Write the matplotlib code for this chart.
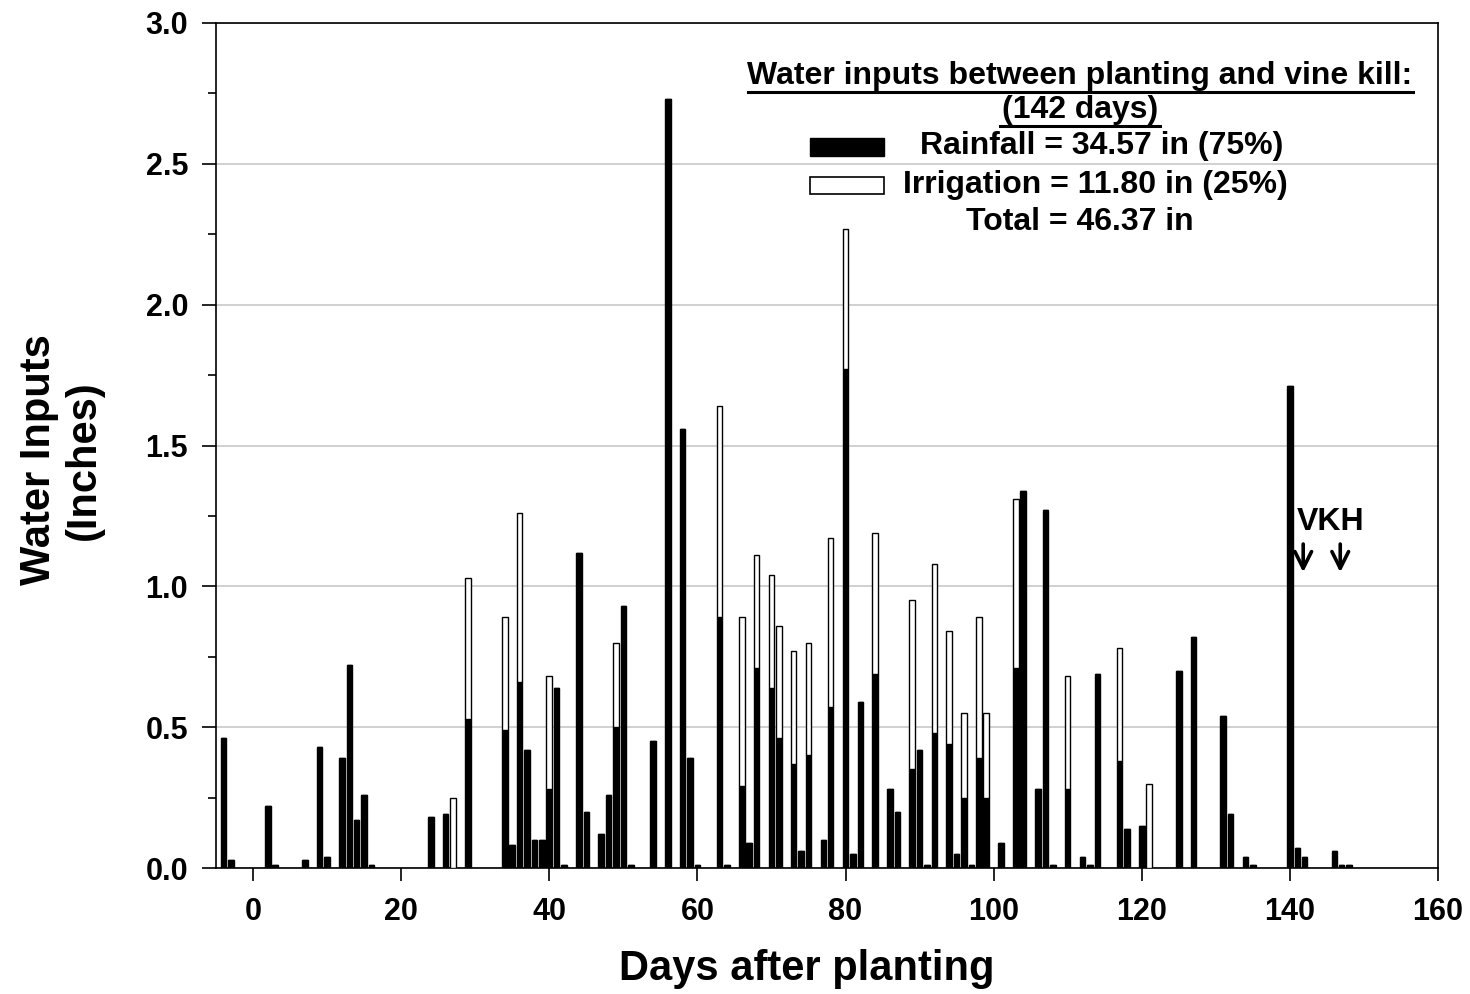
import matplotlib
matplotlib.use("Agg")
import matplotlib.pyplot as plt
from matplotlib.ticker import MultipleLocator
from matplotlib.patches import Rectangle
from matplotlib.lines import Line2D

# days after planting, rainfall and irrigation (inches)
days = [-4, -3, 2, 3, 7, 9, 10, 12, 13, 14, 15, 16, 24, 26, 27, 29,
        34, 35, 36, 37, 38, 39, 40, 41, 42, 44, 45, 47, 48, 49, 50, 51,
        54, 56, 58, 59, 60, 63, 64, 66, 67, 68, 70, 71, 73, 74, 75, 77,
        78, 80, 81, 82, 84, 86, 87, 89, 90, 91, 92, 94, 95, 96, 97, 98,
        99, 101, 103, 104, 106, 107, 108, 110, 112, 113, 114, 117, 118,
        120, 121, 125, 127, 131, 132, 134, 135, 140, 141, 142, 146, 147, 148]
rain = [0.46, 0.03, 0.22, 0.01, 0.03, 0.43, 0.04, 0.39, 0.72, 0.17, 0.26, 0.01, 0.18, 0.19, 0.00, 0.53,
        0.49, 0.08, 0.66, 0.42, 0.10, 0.10, 0.28, 0.64, 0.01, 1.12, 0.20, 0.12, 0.26, 0.50, 0.93, 0.01,
        0.45, 2.73, 1.56, 0.39, 0.01, 0.89, 0.01, 0.29, 0.09, 0.71, 0.64, 0.46, 0.37, 0.06, 0.40, 0.10,
        0.57, 1.77, 0.05, 0.59, 0.69, 0.28, 0.20, 0.35, 0.42, 0.01, 0.48, 0.44, 0.05, 0.25, 0.01, 0.39,
        0.25, 0.09, 0.71, 1.34, 0.28, 1.27, 0.01, 0.28, 0.04, 0.01, 0.69, 0.38, 0.14,
        0.15, 0.00, 0.70, 0.82, 0.54, 0.19, 0.04, 0.01, 1.71, 0.07, 0.04, 0.06, 0.01, 0.01]
irrig = [0, 0, 0, 0, 0, 0, 0, 0, 0, 0, 0, 0, 0, 0, 0.25, 0.50,
         0.40, 0, 0.60, 0, 0, 0, 0.40, 0, 0, 0, 0, 0, 0, 0.30, 0, 0,
         0, 0, 0, 0, 0, 0.75, 0, 0.60, 0, 0.40, 0.40, 0.40, 0.40, 0, 0.40, 0,
         0.60, 0.50, 0, 0, 0.50, 0, 0, 0.60, 0, 0, 0.60, 0.40, 0, 0.30, 0, 0.50,
         0.30, 0, 0.60, 0, 0, 0, 0, 0.40, 0, 0, 0, 0.40, 0,
         0, 0.30, 0, 0, 0, 0, 0, 0, 0, 0, 0, 0, 0, 0]

rain_label = "Rainfall = 34.57 in (75%)"
irrig_label = "Irrigation = 11.80 in (25%)"
total_label = "Total = 46.37 in"
box_title = ["Water inputs between planting and vine kill:", "(142 days)"]
event_days = [141.8, 146.8]   # vine kill, harvest arrows

W, H = 1470, 994
BOLD = ['Liberation Sans', 'DejaVu Sans']

def fx(px):
    return px / W

def fy(py):
    return 1 - py / H

fig = plt.figure(figsize=(W / 100, H / 100), dpi=100)
ax = fig.add_axes([fx(216), fy(868), fx(1438) - fx(216), fy(23) - fy(868)])

ax.bar(days, rain, width=0.75, color='black', edgecolor='black', linewidth=1.0, zorder=3)
ax.bar(days, irrig, bottom=rain, width=0.75, color='white', edgecolor='black',
       linewidth=1.0, zorder=3)

ax.set_xlim(-5, 160)
ax.set_ylim(0, 3.0)
ax.xaxis.set_major_locator(MultipleLocator(20))
ax.yaxis.set_major_locator(MultipleLocator(0.5))
ax.yaxis.set_minor_locator(MultipleLocator(0.25))
ax.yaxis.set_major_formatter(matplotlib.ticker.FormatStrFormatter('%.1f'))
ax.tick_params(axis='x', which='major', direction='out', length=9, width=1.2, pad=12)
ax.tick_params(axis='y', which='major', direction='out', length=10, width=1.2, pad=10)
ax.tick_params(axis='y', which='minor', direction='out', length=6, width=1.2)
for lab in ax.get_xticklabels() + ax.get_yticklabels():
    lab.set_family(BOLD)
    lab.set_fontweight('bold')
    lab.set_fontsize(22)
for s in ax.spines.values():
    s.set_linewidth(1.2)

ax.grid(axis='y', color='#c8c8c8', linewidth=1.2, zorder=0)

ax.set_xlabel("Days after planting", family=BOLD, fontweight='bold', fontsize=30)
ax.xaxis.set_label_coords(0.4836, -0.096)
ax.set_ylabel("Water Inputs\n(Inches)", family=BOLD, fontweight='bold', fontsize=30,
              linespacing=1.15)
ax.yaxis.set_label_coords(-0.092, 0.483)

# VK / H markers
ax.text(event_days[0] - 0.9, 1.23, "VKH", family=BOLD, fontweight='bold', fontsize=23,
        ha='left', va='center')
for d in event_days:
    ax.annotate('', xy=(d, 1.04), xytext=(d, 1.16),
                arrowprops=dict(arrowstyle='->', lw=2.6, color='black',
                                mutation_scale=30))

# legend block
fig.text(fx(1080), fy(76), box_title[0], family=BOLD, fontweight='bold', fontsize=23,
         ha='center', va='center')
fig.text(fx(1080), fy(110), box_title[1], family=BOLD, fontweight='bold', fontsize=23,
         ha='center', va='center')
fig.add_artist(Line2D([fx(748), fx(1413)], [fy(92), fy(92)], transform=fig.transFigure,
                      color='black', lw=2.2))
fig.add_artist(Line2D([fx(1000), fx(1160)], [fy(126), fy(126)], transform=fig.transFigure,
                      color='black', lw=2.2))
fig.text(fx(1102), fy(146), rain_label, family=BOLD, fontweight='bold', fontsize=23,
         ha='center', va='center')
fig.text(fx(1095), fy(185), irrig_label, family=BOLD, fontweight='bold', fontsize=23,
         ha='center', va='center')
fig.text(fx(1080), fy(222), total_label, family=BOLD, fontweight='bold', fontsize=23,
         ha='center', va='center')
fig.add_artist(Rectangle((fx(810), fy(156)), fx(884) - fx(810), fy(138) - fy(156),
                         transform=fig.transFigure, facecolor='black', edgecolor='black', lw=1))
fig.add_artist(Rectangle((fx(810), fy(194)), fx(884) - fx(810), fy(177) - fy(194),
                         transform=fig.transFigure, facecolor='white', edgecolor='black', lw=1.2))

fig.savefig("out.png", dpi=100)
